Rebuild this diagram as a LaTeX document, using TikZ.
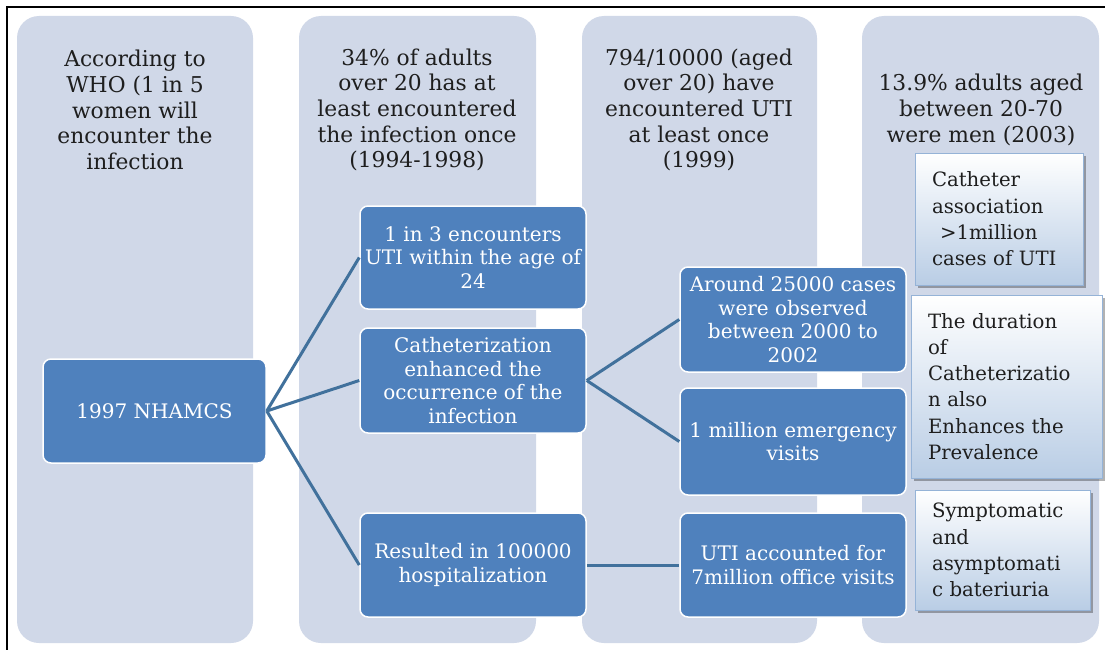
\documentclass[tikz,border=0pt]{standalone}
\usepackage{fontspec}
\setmainfont{DejaVu Serif}
\usetikzlibrary{shadows}
\definecolor{colbg}{HTML}{D0D8E8}
\definecolor{boxblue}{HTML}{4F81BD}
\definecolor{linkblue}{HTML}{41719C}
\definecolor{gradbot}{HTML}{B9CDE5}
\definecolor{gradedge}{HTML}{95B3D7}
\definecolor{headtxt}{HTML}{1E1E1E}
\begin{document}
\begin{tikzpicture}[x=1pt,y=-1pt,
  column/.style={fill=colbg, draw=none, rounded corners=22pt, inner sep=0pt, minimum height=627pt},
  header/.style={text=headtxt, align=center, font=\fontsize{21.8}{25.7}\selectfont, inner sep=0pt},
  bluebox/.style={fill=boxblue, draw=white, line width=1.5pt, rounded corners=8pt, text=white,
    align=center, font=\fontsize{20}{23.5}\selectfont, inner sep=0pt, minimum width=226pt},
  notebox/.style={top color=white, bottom color=gradbot, draw=gradedge, line width=0.8pt,
    align=left, font=\fontsize{19.7}{26.3}\selectfont, inner ysep=0pt, inner xsep=17pt,
    text=headtxt,
    drop shadow={shadow xshift=2.5pt, shadow yshift=-2.5pt, fill=black, opacity=0.3}},
  link/.style={draw=linkblue, line width=3pt}
]
\useasboundingbox (0,0) rectangle (1105,650);
\fill[white] (0,0) rectangle (1105,650);
% frame
\draw[line width=2pt, black] (7,650) -- (7,7) -- (1105,7);

% columns
\node[column, minimum width=236pt] (c1) at (135,329.5) {};
\node[column, minimum width=237pt] (c2) at (417.5,329.5) {};
\node[column, minimum width=235pt] (c3) at (699.5,329.5) {};
\node[column, minimum width=237pt] (c4) at (980.5,329.5) {};

% headers
\node[header] (h1) at (135,110) {According to\\WHO (1 in 5\\women will\\encounter the\\infection};
\node[header] (h2) at (417,110) {34\% of adults\\over 20 has at\\least encountered\\the infection once\\(1994-1998)};
\node[header] (h3) at (699,110) {794/10000 (aged\\over 20) have\\encountered UTI\\at least once\\(1999)};
\node[header] (h4) at (981,110) {13.9\% adults aged\\between 20-70\\were men (2003)};

% blue boxes
\node[bluebox, minimum width=223pt, minimum height=104pt] (nh) at (154.5,411) {1997 NHAMCS};
\node[bluebox, minimum height=103pt] (b1) at (473,257.5) {1 in 3 encounters\\UTI within the age of\\24};
\node[bluebox, minimum height=105pt] (b2) at (473,380.5) {Catheterization\\enhanced the\\occurrence of the\\infection};
\node[bluebox, minimum height=104pt] (b3) at (473,565) {Resulted in 100000\\hospitalization};
\node[bluebox, minimum height=105pt] (d1) at (793,319.5) {Around 25000 cases\\were observed\\between 2000 to\\2002};
\node[bluebox, minimum height=107pt] (d2) at (793,441.5) {1 million emergency\\visits};
\node[bluebox, minimum height=104pt] (d3) at (793,565) {UTI accounted for\\7million office visits};

% note boxes
\node[notebox, text width=134pt, minimum height=132pt] (n1) at (999,219)
  {Catheter\\association\\\hspace*{8pt}>1million\\cases of UTI};
\node[notebox, text width=157pt, minimum height=183pt] (n2) at (1006.5,386.5)
  {The duration\\of\\Catheterizatio\\n also\\Enhances the\\Prevalence};
\node[notebox, text width=141pt, minimum height=120pt] (n3) at (1002.5,550)
  {Symptomatic\\and\\asymptomati\\c bateriuria};

% connectors
\draw[link] (nh.east) -- (b1.west);
\draw[link] (nh.east) -- (b2.west);
\draw[link] (nh.east) -- (b3.west);
\draw[link] (b2.east) -- (d1.west);
\draw[link] (b2.east) -- (d2.west);
\draw[link] (b3.east) -- (d3.west);
\end{tikzpicture}
\end{document}
